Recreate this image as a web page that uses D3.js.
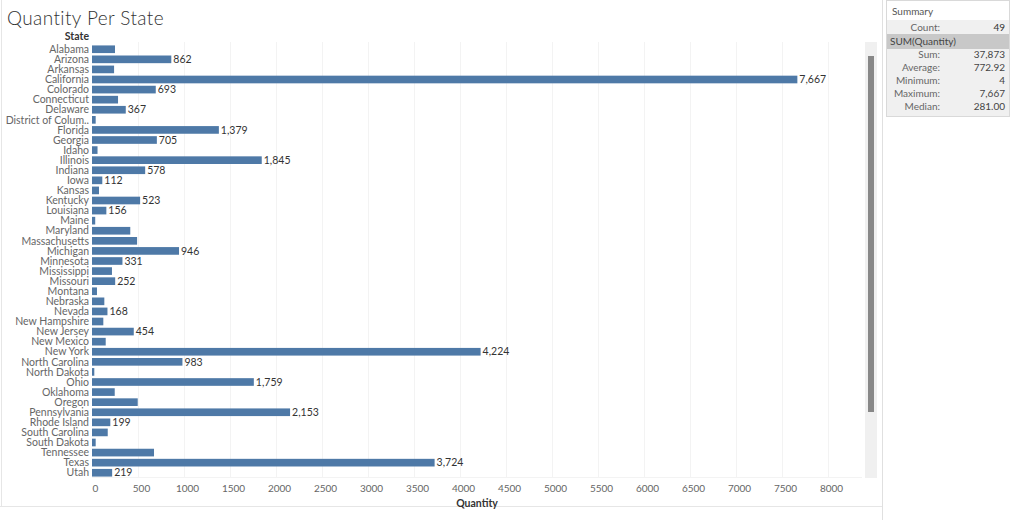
<!DOCTYPE html>
<html>
<head>
<meta charset="utf-8">
<script src="https://cdn.jsdelivr.net/npm/d3@7"></script>
<style>
  body { margin: 0; background: #fff; }
  svg { font-family: Lato, "Open Sans", sans-serif; }
</style>
</head>
<body>
<svg width="1014" height="520"></svg>
<script>
// data
const states = ["Alabama", "Arizona", "Arkansas", "California", "Colorado", "Connecticut", "Delaware",
  "District of Colum..", "Florida", "Georgia", "Idaho", "Illinois", "Indiana", "Iowa", "Kansas",
  "Kentucky", "Louisiana", "Maine", "Maryland", "Massachusetts", "Michigan", "Minnesota",
  "Mississippi", "Missouri", "Montana", "Nebraska", "Nevada", "New Hampshire", "New Jersey",
  "New Mexico", "New York", "North Carolina", "North Dakota", "Ohio", "Oklahoma", "Oregon",
  "Pennsylvania", "Rhode Island", "South Carolina", "South Dakota", "Tennessee", "Texas", "Utah"];
const quantity = [250, 862, 240, 7667, 693, 283, 367,
  40, 1379, 705, 60, 1845, 578, 112, 76,
  523, 156, 35, 416, 490, 946, 331,
  217, 252, 54, 134, 168, 123, 454,
  149, 4224, 983, 25, 1759, 247, 497,
  2153, 199, 171, 40, 674, 3724, 219];
// which bars carry a mark label in the picture
const labelled = ["Arizona", "California", "Colorado", "Delaware", "Florida", "Georgia", "Illinois",
  "Indiana", "Iowa", "Kentucky", "Louisiana", "Michigan", "Minnesota", "Missouri", "Nevada",
  "New Jersey", "New York", "North Carolina", "Ohio", "Pennsylvania", "Rhode Island", "Texas", "Utah"];
const xTicks = d3.range(0, 8001, 500);

const summaryLabels = ["Sum:", "Average:", "Minimum:", "Maximum:", "Median:"];
const summaryValues = ["37,873", "772.92", "4", "7,667", "281.00"];
const summaryCount = 49;

const data = states.map((s, i) => ({ state: s, value: quantity[i] }));

const svg = d3.select("svg");

// frame lines
svg.append("line").attr("x1", 1.5).attr("x2", 1.5).attr("y1", 0).attr("y2", 506).attr("stroke", "#e6e6e6");
svg.append("line").attr("x1", 0).attr("x2", 882).attr("y1", 506.5).attr("y2", 506.5).attr("stroke", "#e6e6e6");
svg.append("line").attr("x1", 882.5).attr("x2", 882.5).attr("y1", 0).attr("y2", 520).attr("stroke", "#e0e0e0");

svg.append("text")
  .attr("x", 7).attr("y", 25)
  .attr("font-size", 19).attr("font-weight", 300)
  .attr("letter-spacing", 0.4)
  .attr("fill", "#333")
  .text("Quantity Per State");

const x = d3.scaleLinear().domain([0, 8000]).range([92, 828]);
const y = d3.scaleBand().domain(states).range([43, 479]).padding(0.24);

// gridlines
svg.append("g").selectAll("line")
  .data(xTicks.slice(1))
  .join("line")
  .attr("x1", d => Math.round(x(d)) + 0.5).attr("x2", d => Math.round(x(d)) + 0.5)
  .attr("y1", 42).attr("y2", 478)
  .attr("stroke", "#f3f3f3");
svg.append("line").attr("x1", 92).attr("x2", 862).attr("y1", 477.5).attr("y2", 477.5).attr("stroke", "#f3f3f3");

// row headers
svg.append("text")
  .attr("x", 89).attr("y", 40)
  .attr("text-anchor", "end")
  .attr("font-size", 10.5).attr("font-weight", 700)
  .attr("fill", "#333")
  .text("State");

svg.append("g").selectAll("text")
  .data(data)
  .join("text")
  .attr("x", 89)
  .attr("y", d => y(d.state) + y.bandwidth() / 2)
  .attr("dy", "0.35em")
  .attr("text-anchor", "end")
  .attr("font-size", 10.5)
  .attr("fill", "#666")
  .text(d => d.state);

// bars
svg.append("g").selectAll("rect")
  .data(data)
  .join("rect")
  .attr("x", x(0))
  .attr("y", d => y(d.state))
  .attr("width", d => x(d.value) - x(0))
  .attr("height", y.bandwidth())
  .attr("fill", "#4e79a7");

svg.append("g").selectAll("text")
  .data(data.filter(d => labelled.includes(d.state)))
  .join("text")
  .attr("x", d => x(d.value) + 2)
  .attr("y", d => y(d.state) + y.bandwidth() / 2)
  .attr("dy", "0.35em")
  .attr("font-size", 10.5)
  .attr("fill", "#333")
  .text(d => d3.format(",")(d.value));

// x axis
const xAxis = svg.append("g")
  .attr("transform", "translate(0,482)")
  .call(d3.axisBottom(x).tickValues(xTicks).tickSize(0).tickFormat(d3.format("d")));
xAxis.select(".domain").remove();
xAxis.selectAll("text")
  .attr("font-family", "Lato, sans-serif")
  .attr("font-size", 10)
  .attr("fill", "#666")
  .attr("dx", 3);

svg.append("text")
  .attr("x", 477).attr("y", 507)
  .attr("text-anchor", "middle")
  .attr("font-size", 10.5).attr("font-weight", 700)
  .attr("fill", "#333")
  .text("Quantity");

// scrollbar
svg.append("rect").attr("x", 865).attr("y", 42).attr("width", 12).attr("height", 436).attr("fill", "#f0f0f0");
svg.append("rect").attr("x", 868).attr("y", 56).attr("width", 6).attr("height", 356).attr("fill", "#888");

// summary card
const card = svg.append("g");
card.append("rect").attr("x", 886.5).attr("y", 0.5).attr("width", 123).attr("height", 116)
  .attr("fill", "#fff").attr("stroke", "#d9d9d9");
card.append("rect").attr("x", 887).attr("y", 20).attr("width", 122).attr("height", 96).attr("fill", "#f0f0f0");
card.append("rect").attr("x", 887).attr("y", 34).attr("width", 122).attr("height", 15).attr("fill", "#c8c8c8");
card.append("text").attr("x", 892).attr("y", 15).attr("font-size", 10).attr("fill", "#555").text("Summary");

card.append("text").attr("x", 940).attr("y", 27.5).attr("dy", "0.35em").attr("text-anchor", "end")
  .attr("font-size", 10).attr("fill", "#666").text("Count:");
card.append("text").attr("x", 1005).attr("y", 27.5).attr("dy", "0.35em").attr("text-anchor", "end")
  .attr("font-size", 10).attr("fill", "#333").text(summaryCount);
card.append("text").attr("x", 890).attr("y", 41.5).attr("dy", "0.35em")
  .attr("font-size", 10).attr("fill", "#444").text("SUM(Quantity)");

card.selectAll(".lab")
  .data(summaryLabels)
  .join("text")
  .attr("x", 940)
  .attr("y", (d, i) => 54.5 + i * 13)
  .attr("dy", "0.35em")
  .attr("text-anchor", "end")
  .attr("font-size", 10).attr("fill", "#666")
  .text(d => d);
card.selectAll(".val")
  .data(summaryValues)
  .join("text")
  .attr("x", 1005)
  .attr("y", (d, i) => 54.5 + i * 13)
  .attr("dy", "0.35em")
  .attr("text-anchor", "end")
  .attr("font-size", 10).attr("fill", "#444")
  .text(d => d);
</script>
</body>
</html>
